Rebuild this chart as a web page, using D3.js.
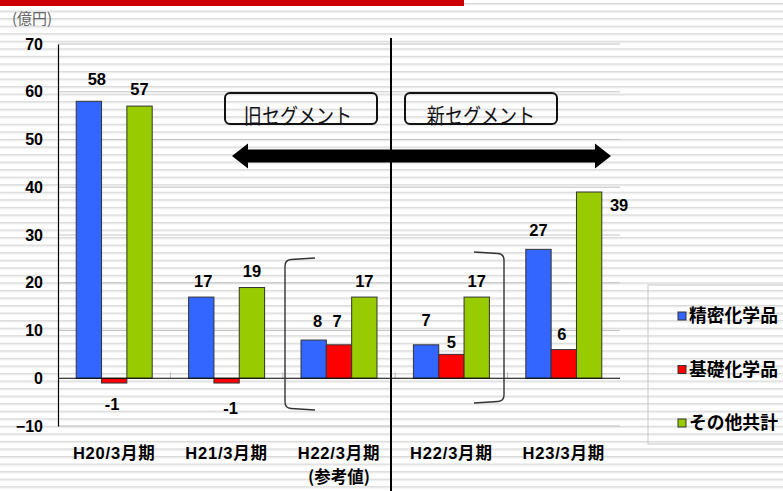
<!DOCTYPE html>
<html><head><meta charset="utf-8">
<script src="https://cdn.jsdelivr.net/npm/d3@7"></script>
<style>
html,body{margin:0;padding:0;background:#fff;}
svg{display:block;}
</style></head>
<body>
<svg id="chart" width="783" height="491"></svg>
<script>
// ---- data ----
const categories = ["H20/3月期", "H21/3月期", "H22/3月期", "H22/3月期", "H23/3月期"];
const categorySub = ["", "", "(参考値)", "", ""];
const seriesNames = ["精密化学品", "基礎化学品", "その他共計"];
const fineChem = [58, 17, 8, 7, 27];
const basicChem = [-1, -1, 7, 5, 6];
const otherTotal = [57, 19, 17, 17, 39];
const yTicks = [-10, 0, 10, 20, 30, 40, 50, 60, 70];
const seriesColors = ["#3366ff", "#ff0000", "#99cc00"];
// label nudges [dx, dy] relative to default placement (series x category)
const labelNudge = [
  [[8,-6],[2,0],[4,-3],[0,-9],[0,-3]],
  [[-2,-4],[4,0],[-2,-8],[0,4],[-2,0]],
  [[0,-1],[0,0],[0,0],[0,0],[30,29]]
];

const seriesValues = [fineChem, basicChem, otherTotal];

const svg = d3.select("#chart");
const W = 783, H = 491;

// background stripes
const defs = svg.append("defs");
const pat = defs.append("pattern").attr("id","stripes").attr("patternUnits","userSpaceOnUse")
  .attr("width", 10).attr("height", 7.55).attr("y", 3);
pat.append("rect").attr("width",10).attr("height",7.55).attr("fill","#ffffff");
pat.append("rect").attr("y",0).attr("width",10).attr("height",1).attr("fill","#dadada");
pat.append("rect").attr("y",1).attr("width",10).attr("height",1.2).attr("fill","#e9e9e9");
svg.append("rect").attr("width",W).attr("height",H).attr("fill","url(#stripes)");

// top red bar
svg.append("rect").attr("x",0).attr("y",0).attr("width",464).attr("height",6).attr("fill","#cc0000");

// unit label
svg.append("text").attr("x",12).attr("y",24).text("(億円)")
  .attr("font-family","'Noto Sans CJK JP', sans-serif").attr("font-size",15).attr("fill","#666");

const plotL = 58, plotR = 620;
const y = d3.scaleLinear().domain([-10,70]).range([426,44]);
const x = d3.scaleBand().domain(d3.range(categories.length)).range([plotL, plotR])
  .paddingInner(0.324).paddingOuter(0.162);
const xs = d3.scaleBand().domain(d3.range(seriesNames.length)).range([0, x.bandwidth()]);

// gridlines
svg.append("g").selectAll("line").data(yTicks.filter(d=>d!==0)).join("line")
  .attr("x1",plotL).attr("x2",plotR).attr("y1",d=>y(d)).attr("y2",d=>y(d))
  .attr("stroke","#c4c4c4").attr("stroke-width",1);

// y axis
const yAxis = d3.axisLeft(y).tickValues(yTicks).tickSize(0).tickPadding(15);
const gy = svg.append("g").attr("transform",`translate(${plotL},0)`).call(yAxis);
gy.select(".domain").attr("stroke","#000").attr("stroke-width",1.2);
gy.selectAll("text").attr("font-family","'Liberation Sans', Arial, sans-serif")
  .attr("font-size",16).attr("font-weight","bold").attr("fill","#000");

// small ticks at category boundaries
const bounds = d3.range(1, categories.length).map(i => plotL + x.step()*i);
svg.append("g").selectAll("line").data(bounds).join("line")
  .attr("x1",d=>d).attr("x2",d=>d).attr("y1",y(0)-6).attr("y2",y(0))
  .attr("stroke","#bbbbbb").attr("stroke-width",1);

// bars
const barData = [];
seriesValues.forEach((vals, s) => vals.forEach((v, c) => barData.push({s, c, v})));
svg.append("g").selectAll("rect").data(barData).join("rect")
  .attr("x", d => x(d.c) + xs(d.s))
  .attr("width", xs.bandwidth())
  .attr("y", d => y(Math.max(0, d.v)))
  .attr("height", d => Math.abs(y(d.v) - y(0)))
  .attr("fill", d => seriesColors[d.s])
  .attr("stroke", "#333").attr("stroke-width", 1);

// zero line
svg.append("line").attr("x1",plotL).attr("x2",plotR).attr("y1",y(0)).attr("y2",y(0))
  .attr("stroke","#000").attr("stroke-width",1.2);

// value labels
svg.append("g").selectAll("text").data(barData).join("text")
  .attr("x", d => x(d.c) + xs(d.s) + xs.bandwidth()/2 + labelNudge[d.s][d.c][0])
  .attr("y", d => (d.v >= 0 ? y(d.v) - 16 : y(0) + 30) + labelNudge[d.s][d.c][1])
  .attr("dy","0.36em")
  .attr("text-anchor","middle")
  .attr("font-family","'Liberation Sans', Arial, sans-serif")
  .attr("font-size",16.5).attr("font-weight","bold").attr("fill","#000")
  .text(d => d.v);

// x category labels
const xl = svg.append("g");
categories.forEach((c, i) => {
  const cx = x(i) + x.bandwidth()/2;
  xl.append("text").attr("x", cx).attr("y", 459).attr("text-anchor","middle")
    .attr("font-family","'Liberation Sans', 'Noto Sans CJK JP', sans-serif")
    .attr("font-size",16.5).attr("font-weight","bold").attr("letter-spacing",0.8).text(c);
  if (categorySub[i]) {
    xl.append("text").attr("x", cx).attr("y", 483).attr("text-anchor","middle")
      .attr("font-family","'Noto Sans CJK JP', sans-serif")
      .attr("font-size",16.5).attr("font-weight","bold").text(categorySub[i]);
  }
});

// divider line
svg.append("line").attr("x1",391).attr("x2",391).attr("y1",38).attr("y2",H)
  .attr("stroke","#000").attr("stroke-width",2);

// segment boxes
const boxes = [{x:225, w:152, t:"旧セグメント", dx:-3}, {x:405, w:152, t:"新セグメント", dx:0}];
boxes.forEach(b => {
  svg.append("rect").attr("x",b.x).attr("y",93).attr("width",b.w).attr("height",31)
    .attr("rx",5).attr("fill","none").attr("stroke","#111").attr("stroke-width",2);
  const cx = b.x + b.w/2 + b.dx;
  svg.append("text").attr("transform",`translate(${cx},115) scale(0.86,1)`)
    .attr("dy","0.36em")
    .attr("text-anchor","middle").attr("font-family","'Noto Sans CJK JP', sans-serif")
    .attr("font-size",21).attr("font-weight",400).attr("fill","#111").text(b.t);
});

// double arrow
const ay = 156, aL = 232, aR = 611, hl = 16, hh = 12.5, sh = 6.5;
svg.append("path").attr("d",
  `M${aL},${ay} L${aL+hl},${ay-hh} L${aL+hl},${ay-sh} L${aR-hl},${ay-sh} L${aR-hl},${ay-hh} L${aR},${ay} L${aR-hl},${ay+hh} L${aR-hl},${ay+sh} L${aL+hl},${ay+sh} L${aL+hl},${ay+hh} Z`)
  .attr("fill","#000");

// brackets
svg.append("path").attr("d","M315,258 L291,259.5 Q285,260 285,266 L285,402 Q285,408 291,408.5 L315,410")
  .attr("fill","none").attr("stroke","#333").attr("stroke-width",1.4);
svg.append("path").attr("d","M474,252 L498,253.5 Q504,254 504,260 L504,395 Q504,401 498,401.5 L474,403")
  .attr("fill","none").attr("stroke","#333").attr("stroke-width",1.4);

// legend
const lg = svg.append("g");
lg.append("rect").attr("x",648).attr("y",285).attr("width",150).attr("height",159)
  .attr("fill","none").attr("stroke","#c8c8c8").attr("stroke-width",1);
seriesNames.forEach((n, i) => {
  const cy = 316 + i*53.5;
  lg.append("rect").attr("x",678).attr("y",cy-4).attr("width",8).attr("height",8)
    .attr("fill",seriesColors[i]).attr("stroke","#333").attr("stroke-width",1);
  lg.append("text").attr("x",689).attr("y",cy).attr("dy","0.36em")
    .attr("font-family","'Noto Sans CJK JP', sans-serif").attr("font-size",17.8)
    .attr("font-weight","bold").attr("fill","#000").text(n);
});
</script>
</body></html>
